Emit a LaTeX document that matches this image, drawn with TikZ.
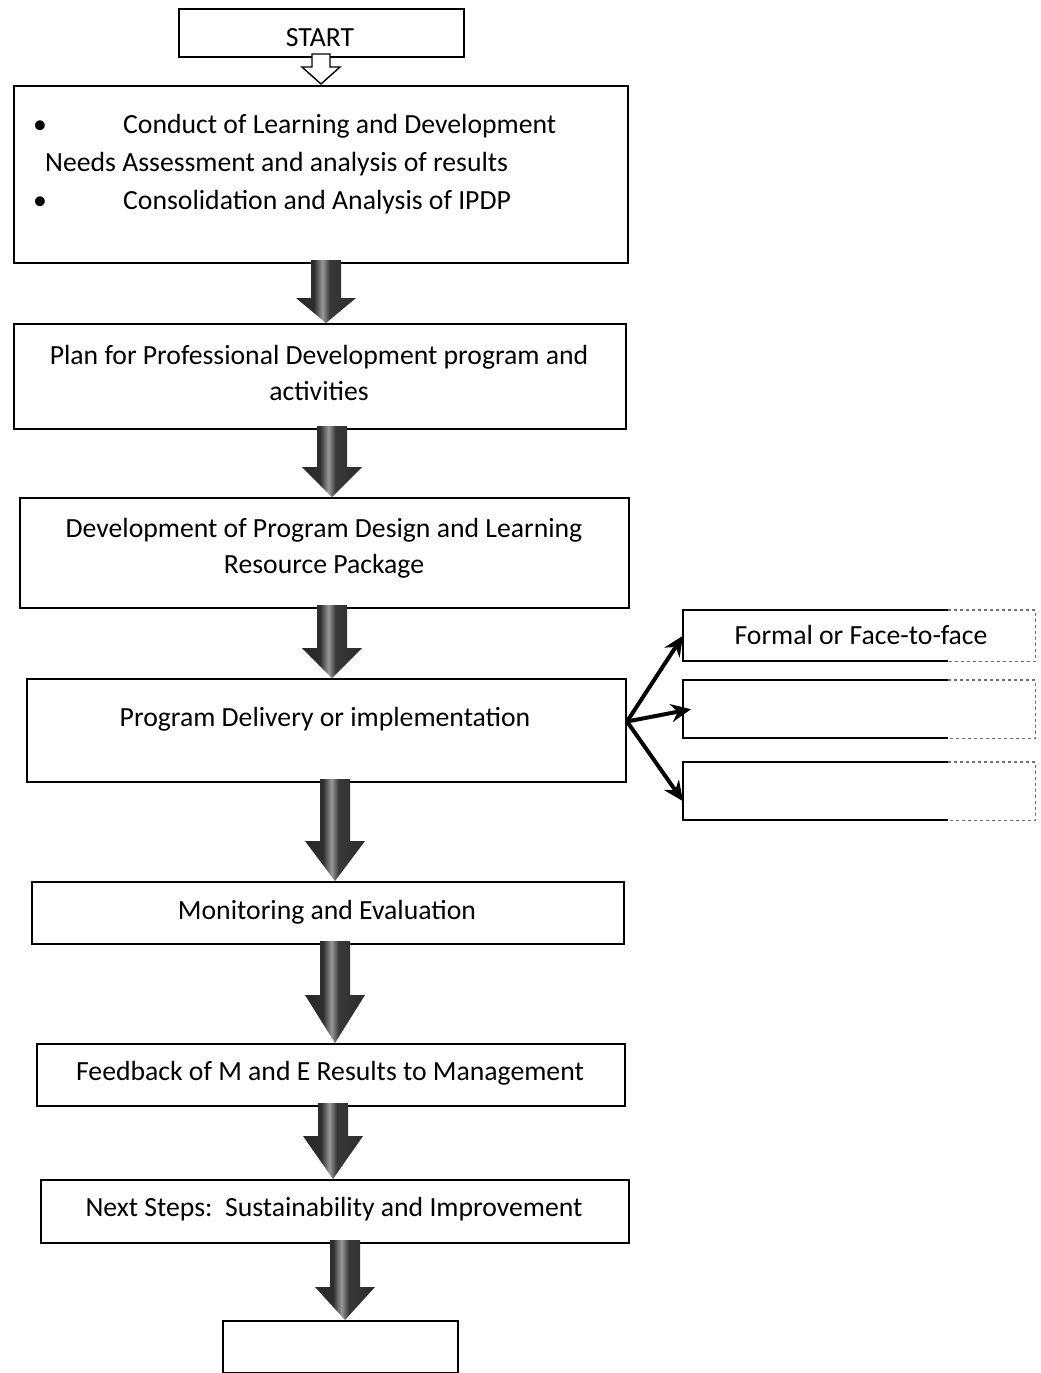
\documentclass[tikz,border=0pt]{standalone}
\usepackage{fontspec}
\setmainfont{Carlito}
\usetikzlibrary{arrows.meta,calc}
\pgfdeclarehorizontalshading{arrshade}{100bp}{color(0bp)=(black!88); color(40bp)=(black!82); color(47bp)=(black!40); color(53bp)=(black!78); color(100bp)=(black!88)}
\newcommand\blockarr[4]{%
  \path[shading=arrshade]
    let \p1=(#1.south), \p2=(#2.north) in
    (#3pt-15pt,\y1+4pt) -- (#3pt+15pt,\y1+4pt) -- (#3pt+15pt,\y2+#4pt) -- (#3pt+30pt,\y2+#4pt)
    -- (#3pt,\y2) -- (#3pt-30pt,\y2+#4pt) -- (#3pt-15pt,\y2+#4pt) -- cycle;}
\begin{document}
\begin{tikzpicture}[x=1pt,y=-1pt,
  box/.style={draw, line width=2pt, anchor=north west, inner sep=0pt},
  sidebox/.style={anchor=north west, inner sep=0pt},
  txt/.style={inner sep=0pt, align=center, font=\fontsize{27.7}{36}\selectfont},
  bar/.style={line width=4pt, -{Stealth[length=20pt,width=18pt]}},
  fade/.style={line width=1.2pt, black!55, dashed},
  ]
\useasboundingbox[fill=white] (0,0) rectangle (1041,1373);

% boxes
\node[box, minimum width=285, minimum height=48] (start) at (178,8) {};
\node[box, minimum width=614, minimum height=177] (b1) at (13,85) {};
\node[box, minimum width=612, minimum height=105] (b2) at (13,323) {};
\node[box, minimum width=609, minimum height=110] (b3) at (19,497) {};
\node[box, minimum width=599, minimum height=103] (b4) at (26,678) {};
\node[box, minimum width=592, minimum height=62] (b5) at (31,881) {};
\node[box, minimum width=588, minimum height=62] (b6) at (36,1043) {};
\node[box, minimum width=588, minimum height=63] (b7) at (40,1179) {};
\node[box, minimum width=235, minimum height=52] (b8) at (222,1320) {};

% side boxes: solid left part, fading dashed right part
\foreach \n/\y/\h in {r1/610/51, r2/680/58, r3/762/58}{
  \node[sidebox, minimum width=352, minimum height=\h] (\n) at (683,\y) {};
  \draw[line width=2pt] ($(\n.north west)+(265,0)$) -- (\n.north west) -- (\n.south west) -- ($(\n.south west)+(265,0)$);
  \draw[fade] ($(\n.north west)+(265,0)$) -- (\n.north east) -- (\n.south east) -- ($(\n.south west)+(265,0)$);
}

% texts
\node[txt] (tstart) at (320,38) {START};
\node[txt, align=left, anchor=base west, font=\fontsize{27.7}{38}\selectfont] (t1) at (33,209)
  {\makebox[90pt][l]{\textbullet}Conduct of Learning and Development\\
   \hspace{12pt}Needs Assessment and analysis of results\\
   \makebox[90pt][l]{\textbullet}Consolidation and Analysis of IPDP};
\node[txt] (t2) at (319,373) {Plan for Professional Development program and\\activities};
\node[txt] (t3) at (324,548) {Development of Program Design and Learning\\Resource Package};
\node[txt] (t4) at (325,719) {Program Delivery or implementation};
\node[txt] (t5) at (327,912) {Monitoring and Evaluation};
\node[txt] (t6) at (330,1073) {Feedback of M and E Results to Management};
\node[txt] (t7) at (334,1209) {Next Steps:\ \ Sustainability and Improvement};
\node[txt] (tr1) at (861,635) {Formal or Face-to-face};

% start hollow arrow
\draw[line width=1.4pt, fill=white] let \p1=(start.south), \p2=(b1.north) in
  (312pt,\y1+4pt) -- (330pt,\y1+4pt) -- (330pt,\y1-9pt) -- (340pt,\y1-9pt)
  -- (321pt,\y2+1pt) -- (302pt,\y1-9pt) -- (312pt,\y1-9pt) -- cycle;

% block arrows
\blockarr{b1}{b2}{326}{25}
\blockarr{b2}{b3}{332}{30}
\blockarr{b3}{b4}{332}{30}
\blockarr{b4}{b5}{335}{40}
\blockarr{b5}{b6}{335}{48}
\blockarr{b6}{b7}{333}{43}
\blockarr{b7}{b8}{345}{33}

% fork arrows
\coordinate (fork) at ($(b4.east)+(0,-9)$);
\draw[bar] (fork) -- (r1.west);
\draw[bar] (fork) -- ($(r2.west)+(8,0)$);
\draw[bar] (fork) -- ($(r3.west)+(0,10)$);
\end{tikzpicture}
\end{document}
